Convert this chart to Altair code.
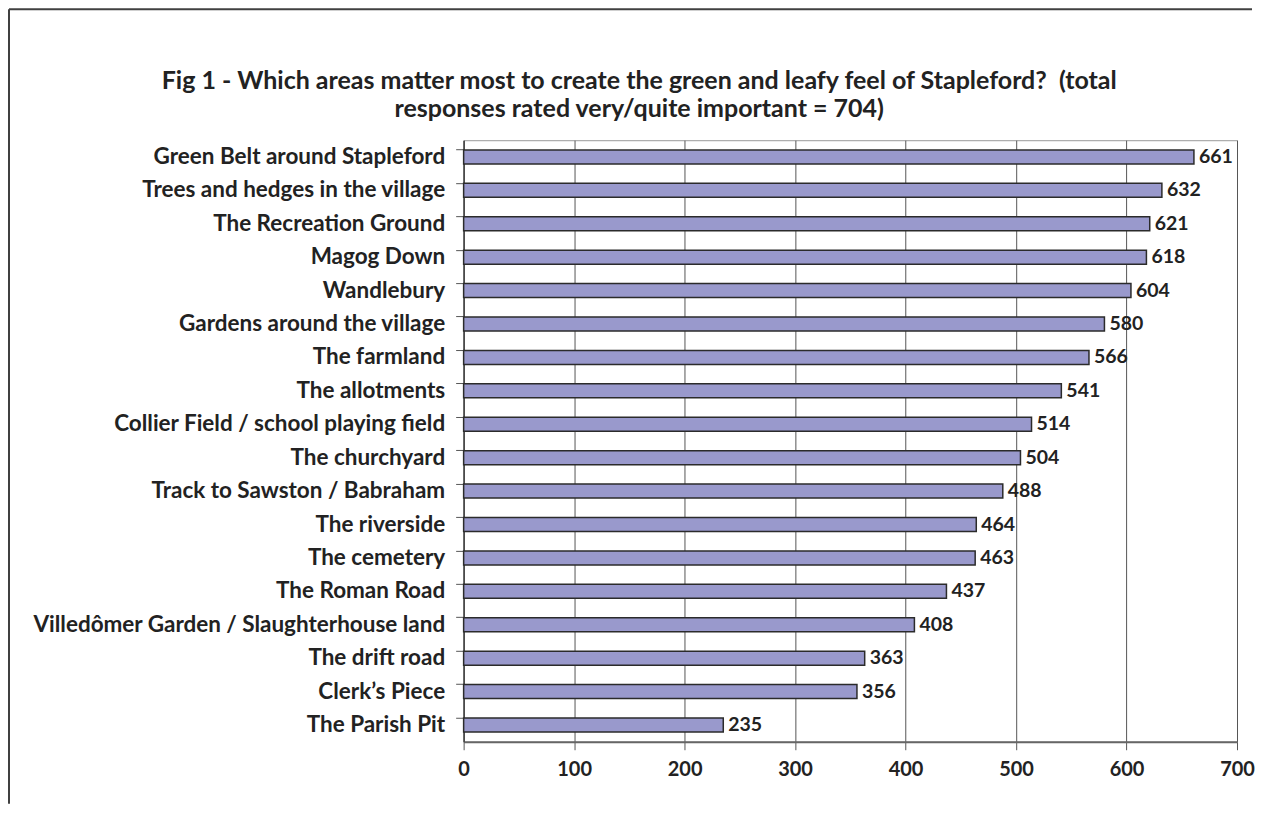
import altair as alt
import pandas as pd

categories = [
    "Green Belt around Stapleford",
    "Trees and hedges in the village",
    "The Recreation Ground",
    "Magog Down",
    "Wandlebury",
    "Gardens around the village",
    "The farmland",
    "The allotments",
    "Collier Field / school playing field",
    "The churchyard",
    "Track to Sawston / Babraham",
    "The riverside",
    "The cemetery",
    "The Roman Road",
    "Villedômer Garden / Slaughterhouse land",
    "The drift road",
    "Clerk\u2019s Piece",
    "The Parish Pit",
]
values = [661, 632, 621, 618, 604, 580, 566, 541, 514, 504, 488, 464, 463, 437, 408, 363, 356, 235]
x_ticks = [0, 100, 200, 300, 400, 500, 600, 700]
title_lines = [
    "Fig 1 - Which areas matter most to create the green and leafy feel of Stapleford?\u00a0 (total",
    "responses rated very/quite important = 704)",
]

df = pd.DataFrame({"area": categories, "count": values})

FONT = "Lato"
TXT = "#222222"

yscale = alt.Scale(domain=categories, paddingInner=0.58, paddingOuter=0.29)
xscale = alt.Scale(domain=[0, 700], nice=False)

bars = alt.Chart(df).mark_bar(
    color="#9999CC", stroke="#2b2b2b", strokeWidth=1.5
).encode(
    x=alt.X("count:Q", scale=xscale,
            axis=alt.Axis(values=x_ticks, title=None, grid=True, gridColor="#555555",
                          gridWidth=1, tickSize=8, tickColor="#555555",
                          domainColor="#666666", domainWidth=2, labelPadding=10,
                          labelFlush=False,
                          labelFont=FONT, labelFontSize=20, labelFontWeight="bold",
                          labelColor=TXT)),
    y=alt.Y("area:N", scale=yscale, sort=categories,
            axis=alt.Axis(orient="left", title=None, ticks=False, tickSize=0,
                          labelPadding=19, domainColor="#444444", domainWidth=1.5,
                          labelFont=FONT, labelFontSize=22.5, labelFontWeight="bold",
                          labelColor=TXT, labelLimit=600)),
)

labels = alt.Chart(df).mark_text(
    align="left", baseline="middle", dx=5, font=FONT, fontSize=19.5,
    fontWeight="bold", color=TXT
).encode(
    x=alt.X("count:Q", scale=xscale),
    y=alt.Y("area:N", scale=yscale, sort=categories,
            axis=alt.Axis(orient="left", title=None, labels=False, domain=False,
                          ticks=True, tickSize=8, tickColor="#555555",
                          bandPosition=0)),
    text="count:Q",
)

frame_data = alt.Data(values=[{"k": 1}])
frame_top = alt.Chart(frame_data).mark_rule(color="#404040", strokeWidth=2).encode(
    x=alt.value(-455), x2=alt.value(789), y=alt.value(-131)
)
frame_left = alt.Chart(frame_data).mark_rule(color="#404040", strokeWidth=2).encode(
    x=alt.value(-455), y=alt.value(-131), y2=alt.value(664)
)

chart = alt.layer(bars, labels, frame_top, frame_left).resolve_axis(
    y="independent"
).properties(
    width=774,
    height=602,
    padding=0,
    title=alt.TitleParams(
        text=title_lines, font=FONT, fontSize=25, fontWeight="bold",
        color=TXT, lineHeight=28, anchor="middle", frame="bounds",
        offset=-114, dx=8,
    ),
).configure_view(stroke="#999999", strokeWidth=1)

chart.save("out.html", embed_options={"renderer": "svg", "actions": False})
